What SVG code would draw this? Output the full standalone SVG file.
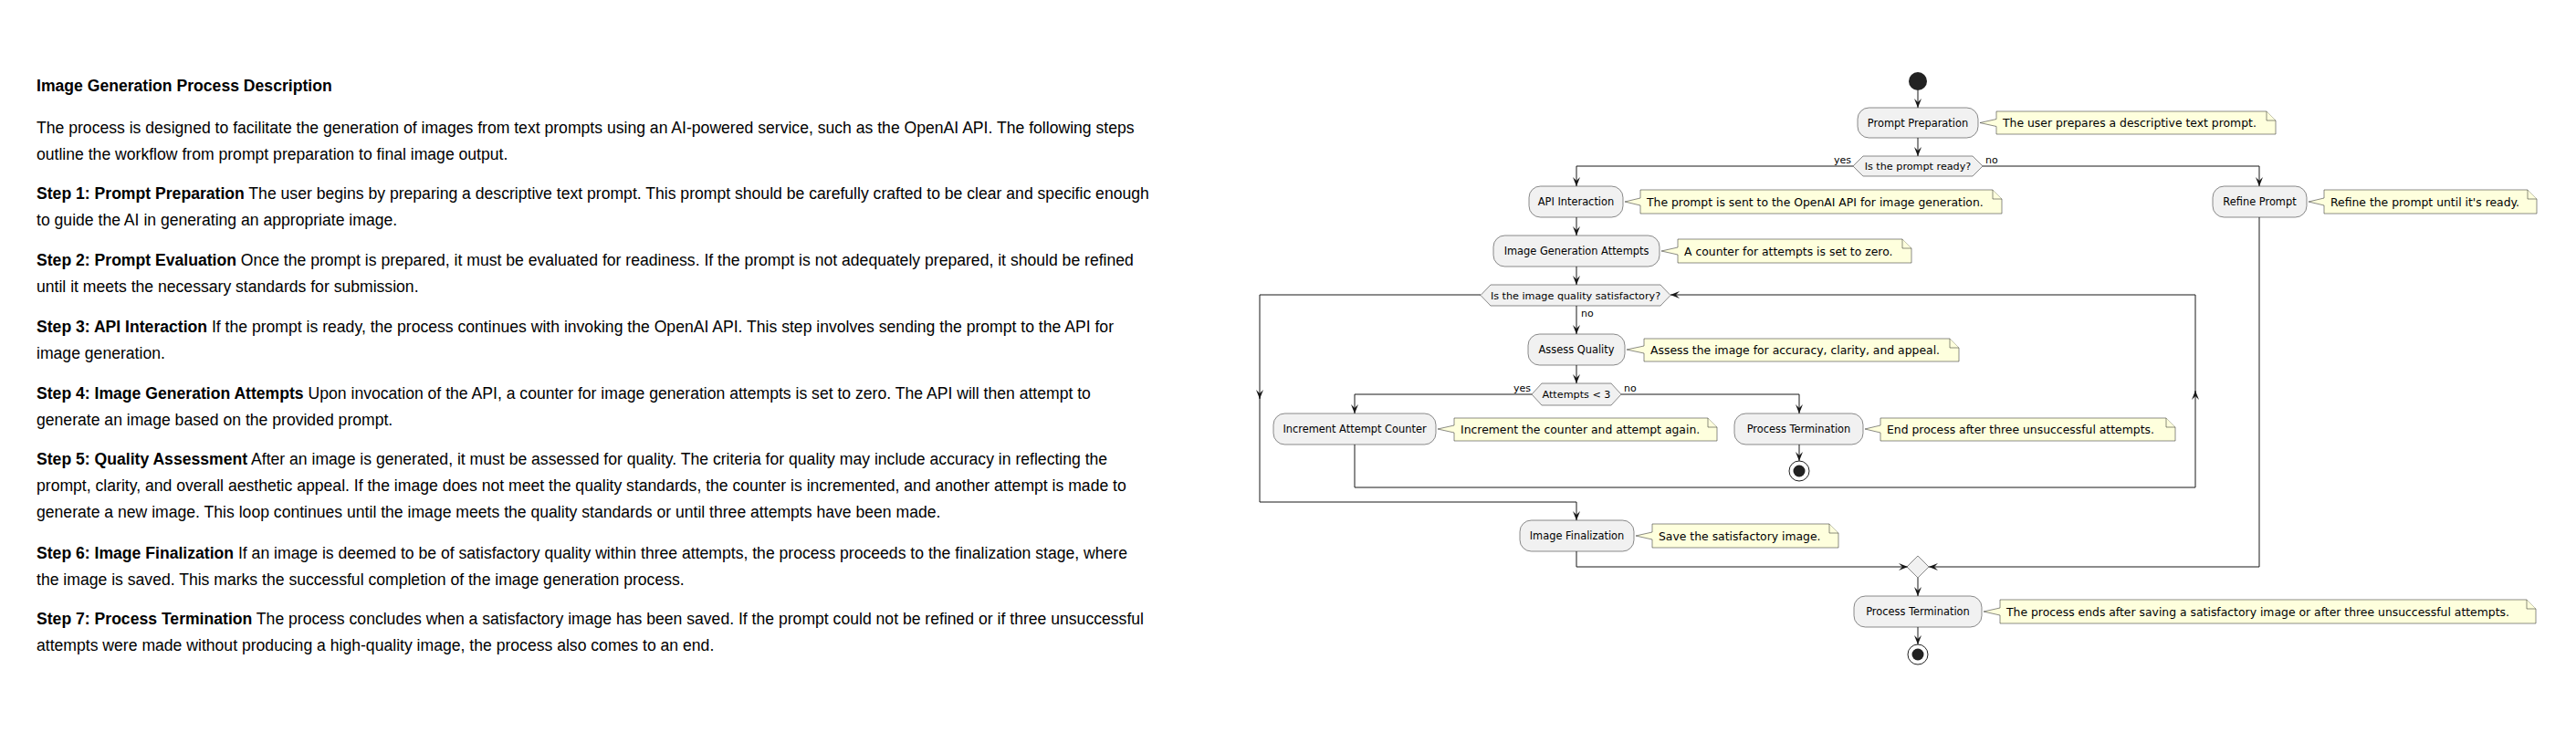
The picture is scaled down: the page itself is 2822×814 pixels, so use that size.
<svg xmlns="http://www.w3.org/2000/svg" width="2822" height="814" viewBox="0 0 2822 814">
<style>
.body{font-family:"Liberation Sans",Arial,sans-serif;font-size:17.6px;fill:#000}
.b{font-weight:bold}
.box{fill:#F1F1F1;stroke:#181818;stroke-width:0.5}
.note{fill:#FEFFDD;stroke:#181818;stroke-width:0.5}
.lbl{font-family:"DejaVu Sans",sans-serif;font-size:11.4px;fill:#000;text-anchor:middle}
.ntxt{font-family:"DejaVu Sans",sans-serif;font-size:12.4px;fill:#000}
.dl{font-family:"DejaVu Sans",sans-serif;font-size:11.2px;fill:#000;text-anchor:middle}
.gl{font-family:"DejaVu Sans",sans-serif;font-size:11px;fill:#000}
.ln{fill:none;stroke:#181818;stroke-width:1}
.ar{marker-end:url(#arr)}
</style>
<defs>
<marker id="arr" viewBox="-11 -5 12 10" refX="0" refY="0" markerWidth="12" markerHeight="10" markerUnits="userSpaceOnUse" orient="auto">
<path d="M0,0 L-10,-4 L-6,0 L-10,4 Z" fill="#181818"/>
</marker>
</defs>
<rect width="2822" height="814" fill="#fff"/>
<g id="description">
<text class="body b" x="40" y="100">Image Generation Process Description</text>
<text class="body" x="40" y="146">The process is designed to facilitate the generation of images from text prompts using an AI-powered service, such as the OpenAI API. The following steps</text>
<text class="body" x="40" y="175">outline the workflow from prompt preparation to final image output.</text>
<text class="body" x="40" y="218"><tspan class="b">Step 1: Prompt Preparation</tspan> The user begins by preparing a descriptive text prompt. This prompt should be carefully crafted to be clear and specific enough</text>
<text class="body" x="40" y="247">to guide the AI in generating an appropriate image.</text>
<text class="body" x="40" y="291"><tspan class="b">Step 2: Prompt Evaluation</tspan> Once the prompt is prepared, it must be evaluated for readiness. If the prompt is not adequately prepared, it should be refined</text>
<text class="body" x="40" y="320">until it meets the necessary standards for submission.</text>
<text class="body" x="40" y="364"><tspan class="b">Step 3: API Interaction</tspan> If the prompt is ready, the process continues with invoking the OpenAI API. This step involves sending the prompt to the API for</text>
<text class="body" x="40" y="393">image generation.</text>
<text class="body" x="40" y="437"><tspan class="b">Step 4: Image Generation Attempts</tspan> Upon invocation of the API, a counter for image generation attempts is set to zero. The API will then attempt to</text>
<text class="body" x="40" y="466">generate an image based on the provided prompt.</text>
<text class="body" x="40" y="509"><tspan class="b">Step 5: Quality Assessment</tspan> After an image is generated, it must be assessed for quality. The criteria for quality may include accuracy in reflecting the</text>
<text class="body" x="40" y="538">prompt, clarity, and overall aesthetic appeal. If the image does not meet the quality standards, the counter is incremented, and another attempt is made to</text>
<text class="body" x="40" y="567">generate a new image. This loop continues until the image meets the quality standards or until three attempts have been made.</text>
<text class="body" x="40" y="612"><tspan class="b">Step 6: Image Finalization</tspan> If an image is deemed to be of satisfactory quality within three attempts, the process proceeds to the finalization stage, where</text>
<text class="body" x="40" y="641">the image is saved. This marks the successful completion of the image generation process.</text>
<text class="body" x="40" y="684"><tspan class="b">Step 7: Process Termination</tspan> The process concludes when a satisfactory image has been saved. If the prompt could not be refined or if three unsuccessful</text>
<text class="body" x="40" y="713">attempts were made without producing a high-quality image, the process also comes to an end.</text>
</g>
<g id="connectors">
<path class="ln ar" d="M2101,99 V118"/>
<path class="ln ar" d="M2101,151 V171"/>
<path class="ln ar" d="M2030,182 H1727 V204"/>
<path class="ln ar" d="M2172,182 H2475 V204"/>
<path class="ln ar" d="M1727,238 V258"/>
<path class="ln ar" d="M1727,292 V312"/>
<path class="ln ar" d="M1727,335 V366"/>
<path class="ln ar" d="M1727,400 V420"/>
<path class="ln ar" d="M1678,432 H1484 V453"/>
<path class="ln ar" d="M1776,432 H1971 V453"/>
<path class="ln ar" d="M1971,487 V505"/>
<path class="ln ar" d="M1484,487 V534 H2405 V428"/>
<path class="ln ar" d="M2405,430 V323 H1830"/>
<path class="ln ar" d="M1622,323 H1380 V437"/>
<path class="ln ar" d="M1380,435 V550 H1727 V570"/>
<path class="ln ar" d="M1727,604 V621 H2090"/>
<path class="ln ar" d="M2475,238 V621 H2113"/>
<path class="ln ar" d="M2101,633 V653"/>
<path class="ln ar" d="M2101,687 V706"/>
<text class="gl" x="2028" y="179" text-anchor="end">yes</text>
<text class="gl" x="2175" y="179">no</text>
<text class="gl" x="1732" y="347">no</text>
<text class="gl" x="1677" y="429" text-anchor="end">yes</text>
<text class="gl" x="1779" y="429">no</text>
</g>
<g id="start"><circle cx="2101" cy="89" r="10" fill="#222"/></g>
<g id="prompt-preparation">
<rect class="box" x="2035" y="118" width="132" height="33" rx="12.5"/>
<text class="lbl" x="2101" y="138.5">Prompt Preparation</text>
</g>
<g id="note-prompt-preparation">
<path class="note" d="M2187,122 H2483 L2493,132 V147 H2187 V138.5 L2169,134.5 L2187,130.5 Z"/>
<path class="note" d="M2483,122 V132 H2493"/>
<text class="ntxt" x="2194" y="139">The user prepares a descriptive text prompt.</text>
</g>
<g id="prompt-ready">
<polygon class="box" points="2030,182 2041,171 2161,171 2172,182 2161,193 2041,193"/>
<text class="dl" x="2101" y="186">Is the prompt ready?</text>
</g>
<g id="api-interaction">
<rect class="box" x="1675" y="204" width="103" height="34" rx="12.5"/>
<text class="lbl" x="1726.5" y="225">API Interaction</text>
</g>
<g id="note-api">
<path class="note" d="M1797,208 H2183 L2193,218 V234 H1797 V225 L1780,221 L1797,217 Z"/>
<path class="note" d="M2183,208 V218 H2193"/>
<text class="ntxt" x="1804" y="225.5">The prompt is sent to the OpenAI API for image generation.</text>
</g>
<g id="refine-prompt">
<rect class="box" x="2424" y="204" width="103" height="34" rx="12.5"/>
<text class="lbl" x="2475.5" y="225">Refine Prompt</text>
</g>
<g id="note-refine">
<path class="note" d="M2546,208 H2769 L2779,218 V234 H2546 V225 L2529,221 L2546,217 Z"/>
<path class="note" d="M2769,208 V218 H2779"/>
<text class="ntxt" x="2553" y="225.5">Refine the prompt until it's ready.</text>
</g>
<g id="image-generation-attempts">
<rect class="box" x="1636" y="258" width="182" height="34" rx="12.5"/>
<text class="lbl" x="1727" y="279">Image Generation Attempts</text>
</g>
<g id="note-attempts">
<path class="note" d="M1838,262 H2084 L2094,272 V288 H1838 V279 L1820,275 L1838,271 Z"/>
<path class="note" d="M2084,262 V272 H2094"/>
<text class="ntxt" x="1845" y="279.5">A counter for attempts is set to zero.</text>
</g>
<g id="quality-satisfactory">
<polygon class="box" points="1622,323.5 1633,312 1819,312 1830,323.5 1819,335 1633,335"/>
<text class="dl" x="1726" y="327.5">Is the image quality satisfactory?</text>
</g>
<g id="assess-quality">
<rect class="box" x="1674" y="366" width="106" height="34" rx="12.5"/>
<text class="lbl" x="1727" y="387">Assess Quality</text>
</g>
<g id="note-assess">
<path class="note" d="M1801,371 H2136 L2146,381 V396 H1801 V387 L1782,383 L1801,379 Z"/>
<path class="note" d="M2136,371 V381 H2146"/>
<text class="ntxt" x="1808" y="388">Assess the image for accuracy, clarity, and appeal.</text>
</g>
<g id="attempts-check">
<polygon class="box" points="1678,432 1689,420 1765,420 1776,432 1765,444 1689,444"/>
<text class="dl" x="1727" y="436">Attempts &lt; 3</text>
</g>
<g id="increment-attempt-counter">
<rect class="box" x="1395" y="453" width="178" height="34" rx="12.5"/>
<text class="lbl" x="1484" y="474">Increment Attempt Counter</text>
</g>
<g id="note-increment">
<path class="note" d="M1593,458 H1871 L1881,468 V483 H1593 V474 L1575,470 L1593,466 Z"/>
<path class="note" d="M1871,458 V468 H1881"/>
<text class="ntxt" x="1600" y="475">Increment the counter and attempt again.</text>
</g>
<g id="process-termination-1">
<rect class="box" x="1900" y="453" width="141" height="34" rx="12.5"/>
<text class="lbl" x="1970.5" y="474">Process Termination</text>
</g>
<g id="note-termination-1">
<path class="note" d="M2060,458 H2373 L2383,468 V483 H2060 V474 L2043,470 L2060,466 Z"/>
<path class="note" d="M2373,458 V468 H2383"/>
<text class="ntxt" x="2067" y="475">End process after three unsuccessful attempts.</text>
</g>
<g id="end-1">
<circle cx="1971" cy="516" r="11" fill="#fff" stroke="#222" stroke-width="1"/>
<circle cx="1971" cy="516" r="6.5" fill="#222"/>
</g>
<g id="image-finalization">
<rect class="box" x="1665" y="570" width="125" height="34" rx="12.5"/>
<text class="lbl" x="1727.5" y="591">Image Finalization</text>
</g>
<g id="note-finalization">
<path class="note" d="M1810,574 H2004 L2014,584 V600 H1810 V591 L1792,587 L1810,583 Z"/>
<path class="note" d="M2004,574 V584 H2014"/>
<text class="ntxt" x="1817" y="591.5">Save the satisfactory image.</text>
</g>
<g id="merge">
<polygon class="box" points="2101,609 2113,621 2101,633 2089,621"/>
</g>
<g id="process-termination-2">
<rect class="box" x="2031" y="653" width="140" height="34" rx="12.5"/>
<text class="lbl" x="2101" y="674">Process Termination</text>
</g>
<g id="note-termination-2">
<path class="note" d="M2191,657 H2768 L2778,667 V683 H2191 V674 L2173,670 L2191,666 Z"/>
<path class="note" d="M2768,657 V667 H2778"/>
<text class="ntxt" x="2198" y="674.5">The process ends after saving a satisfactory image or after three unsuccessful attempts.</text>
</g>
<g id="end-2">
<circle cx="2101" cy="717" r="11" fill="#fff" stroke="#222" stroke-width="1"/>
<circle cx="2101" cy="717" r="6.5" fill="#222"/>
</g>
</svg>
